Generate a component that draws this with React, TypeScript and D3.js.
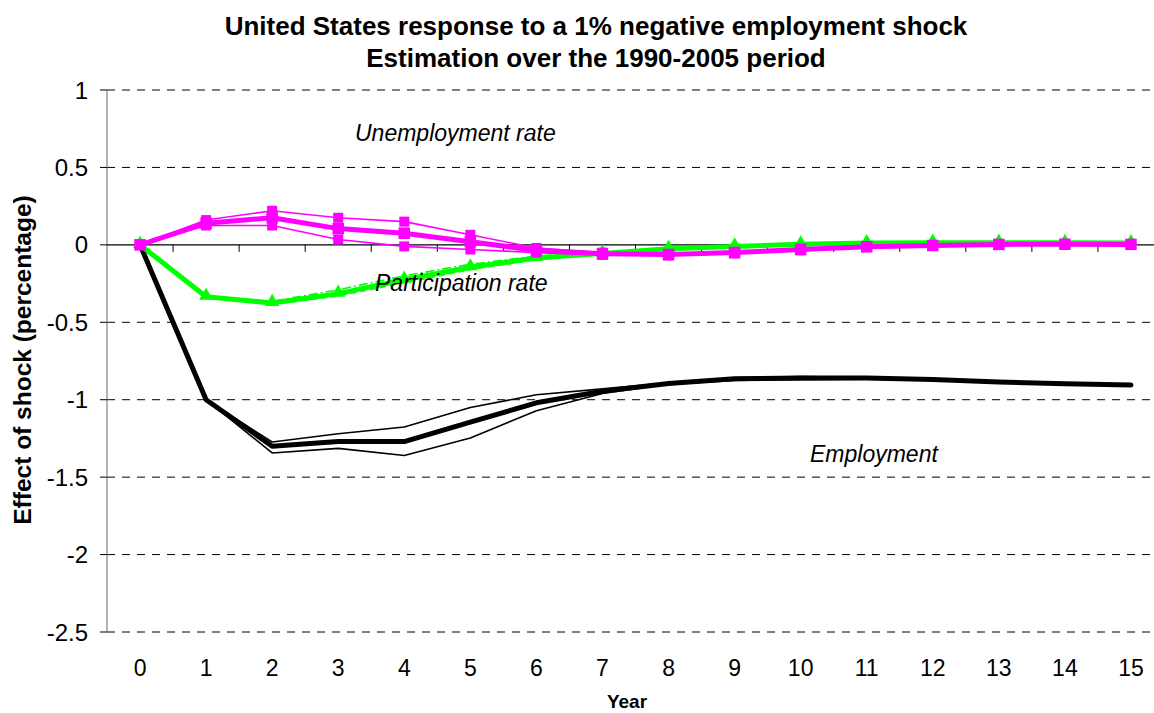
import React, { useEffect } from "react";
import * as d3 from "d3";

// Years after the shock
const years = [0, 1, 2, 3, 4, 5, 6, 7, 8, 9, 10, 11, 12, 13, 14, 15];

// Employment response (central estimate and confidence bounds)
const employment = [0, -1.0, -1.3, -1.27, -1.27, -1.145, -1.02, -0.945, -0.895, -0.865, -0.86, -0.86, -0.87, -0.885, -0.897, -0.905];
const employmentUpper = [0, -1.0, -1.273, -1.22, -1.176, -1.05, -0.968, -0.93, -0.89, -0.858, -0.85, -0.855, -0.868, -0.884, -0.896, -0.905];
const employmentLower = [0, -1.0, -1.344, -1.314, -1.36, -1.247, -1.071, -0.96, -0.9, -0.875, -0.87, -0.868, -0.874, -0.887, -0.898, -0.906];

// Participation rate response
const participation = [0, -0.335, -0.375, -0.315, -0.225, -0.145, -0.085, -0.055, -0.025, -0.01, 0.004, 0.012, 0.014, 0.014, 0.013, 0.012];
const participationUpper = [0, -0.33, -0.365, -0.29, -0.2, -0.125, -0.072, -0.048, -0.02, -0.006, 0.007, 0.014, 0.016, 0.016, 0.015, 0.014];
const participationLower = [0, -0.34, -0.385, -0.33, -0.245, -0.16, -0.095, -0.062, -0.03, -0.014, 0.001, 0.01, 0.012, 0.012, 0.011, 0.01];

// Unemployment rate response
const unemployment = [0, 0.14, 0.175, 0.105, 0.075, 0.02, -0.035, -0.058, -0.063, -0.05, -0.03, -0.012, -0.004, 0.003, 0.004, 0.003];
const unemploymentUpper = [0, 0.16, 0.22, 0.175, 0.15, 0.065, -0.02, -0.05, -0.058, -0.045, -0.025, -0.008, -0.002, 0.004, 0.005, 0.004];
const unemploymentLower = [0, 0.125, 0.125, 0.035, -0.01, -0.03, -0.05, -0.065, -0.068, -0.055, -0.035, -0.015, -0.006, 0.002, 0.003, 0.002];

const yTicks = [1, 0.5, 0, -0.5, -1, -1.5, -2, -2.5];

const W = 1154;
const H = 713;
const FONT = "'Liberation Sans', Arial, sans-serif";

export default function App() {
  useEffect(() => {
    document.body.style.margin = "0";
  }, []);

  const left = 107;
  const right = 1164;
  const top = 90;
  const bottom = 632;

  const x = d3.scaleBand<number>().domain(years).range([left, right]).padding(0);
  const cx = (i: number) => (x(years[i]) as number) + x.bandwidth() / 2;
  const y = d3.scaleLinear().domain([-2.5, 1]).range([bottom, top]);

  const line = d3
    .line<number>()
    .x((_, i) => cx(i))
    .y((d) => y(d));

  const magenta = "#FF00FF";
  const green = "#00FF00";

  const squares = (vals: number[], size: number, key: string) =>
    vals.map((v, i) => (
      <rect
        key={key + i}
        x={cx(i) - size / 2}
        y={y(v) - size / 2}
        width={size}
        height={size}
        fill={magenta}
      />
    ));

  const triSym = d3.symbol().type(d3.symbolTriangle).size(85)();

  const boundaries = years.map((_, i) => left + x.bandwidth() * (i + 1));

  return (
    <svg
      width={W}
      height={H}
      style={{ position: "absolute", left: 0, top: 0, background: "#fff" }}
      fontFamily={FONT}
    >
      <rect x={0} y={0} width={W} height={H} fill="#fff" />

      {/* title */}
      <text x={596} y={35} textAnchor="middle" fontWeight="bold" fontSize={26}>
        United States response to a 1% negative employment shock
      </text>
      <text x={596} y={67} textAnchor="middle" fontWeight="bold" fontSize={26}>
        Estimation over the 1990-2005 period
      </text>

      {/* horizontal gridlines */}
      {yTicks
        .filter((t) => t !== 0)
        .map((t) => (
          <line
            key={"g" + t}
            x1={left}
            x2={W}
            y1={y(t)}
            y2={y(t)}
            stroke="#000"
            strokeWidth={1}
            strokeDasharray="8,7"
          />
        ))}

      {/* y axis */}
      <line x1={left} x2={left} y1={top} y2={bottom} stroke="#808080" strokeWidth={1.2} />
      {yTicks.map((t) => (
        <g key={"yt" + t}>
          <line x1={left - 7} x2={left} y1={y(t)} y2={y(t)} stroke="#000" strokeWidth={1} />
          <text x={88} y={y(t) + 8.5} textAnchor="end" fontSize={24}>
            {t}
          </text>
        </g>
      ))}

      {/* x axis at zero */}
      <line x1={left} x2={W} y1={y(0)} y2={y(0)} stroke="#000" strokeWidth={1.2} />
      {boundaries.map((b, i) => (
        <line key={"xt" + i} x1={b} x2={b} y1={y(0)} y2={y(0) + 7} stroke="#000" strokeWidth={1} />
      ))}
      {years.map((yr, i) => (
        <text key={"xl" + yr} x={cx(i)} y={676} textAnchor="middle" fontSize={23}>
          {yr}
        </text>
      ))}

      {/* axis titles */}
      <text x={627} y={708} textAnchor="middle" fontWeight="bold" fontSize={19}>
        Year
      </text>
      <text
        transform="translate(31,360) rotate(-90)"
        textAnchor="middle"
        fontWeight="bold"
        fontSize={24.5}
      >
        Effect of shock (percentage)
      </text>

      {/* employment */}
      <g fill="none" stroke="#000" strokeLinejoin="round" strokeLinecap="round">
        <path d={line(employmentUpper) as string} strokeWidth={1.6} />
        <path d={line(employmentLower) as string} strokeWidth={1.6} />
        <path d={line(employment) as string} strokeWidth={5} />
      </g>

      {/* participation rate */}
      <g fill="none" stroke={green} strokeLinejoin="round">
        <path d={line(participationUpper) as string} strokeWidth={1.6} strokeDasharray="9,3,2,3" />
        <path d={line(participationLower) as string} strokeWidth={1.6} strokeDasharray="6,4" />
        <path d={line(participation) as string} strokeWidth={5} />
      </g>
      {participation.map((v, i) => (
        <path key={"tr" + i} d={triSym as string} transform={`translate(${cx(i)},${y(v) - 1})`} fill={green} />
      ))}

      {/* unemployment rate */}
      <g fill="none" stroke={magenta} strokeLinejoin="round">
        <path d={line(unemploymentUpper) as string} strokeWidth={1.6} />
        <path d={line(unemploymentLower) as string} strokeWidth={1.6} />
        <path d={line(unemployment) as string} strokeWidth={5} />
      </g>
      {squares(unemploymentUpper, 10, "su")}
      {squares(unemploymentLower, 10, "sl")}
      {squares(unemployment, 11.5, "sm")}

      {/* series annotations */}
      <text x={355} y={141} fontStyle="italic" fontSize={23}>
        Unemployment rate
      </text>
      <text x={375} y={291} fontStyle="italic" fontSize={23}>
        Participation rate
      </text>
      <text x={810} y={462} fontStyle="italic" fontSize={23}>
        Employment
      </text>
    </svg>
  );
}
